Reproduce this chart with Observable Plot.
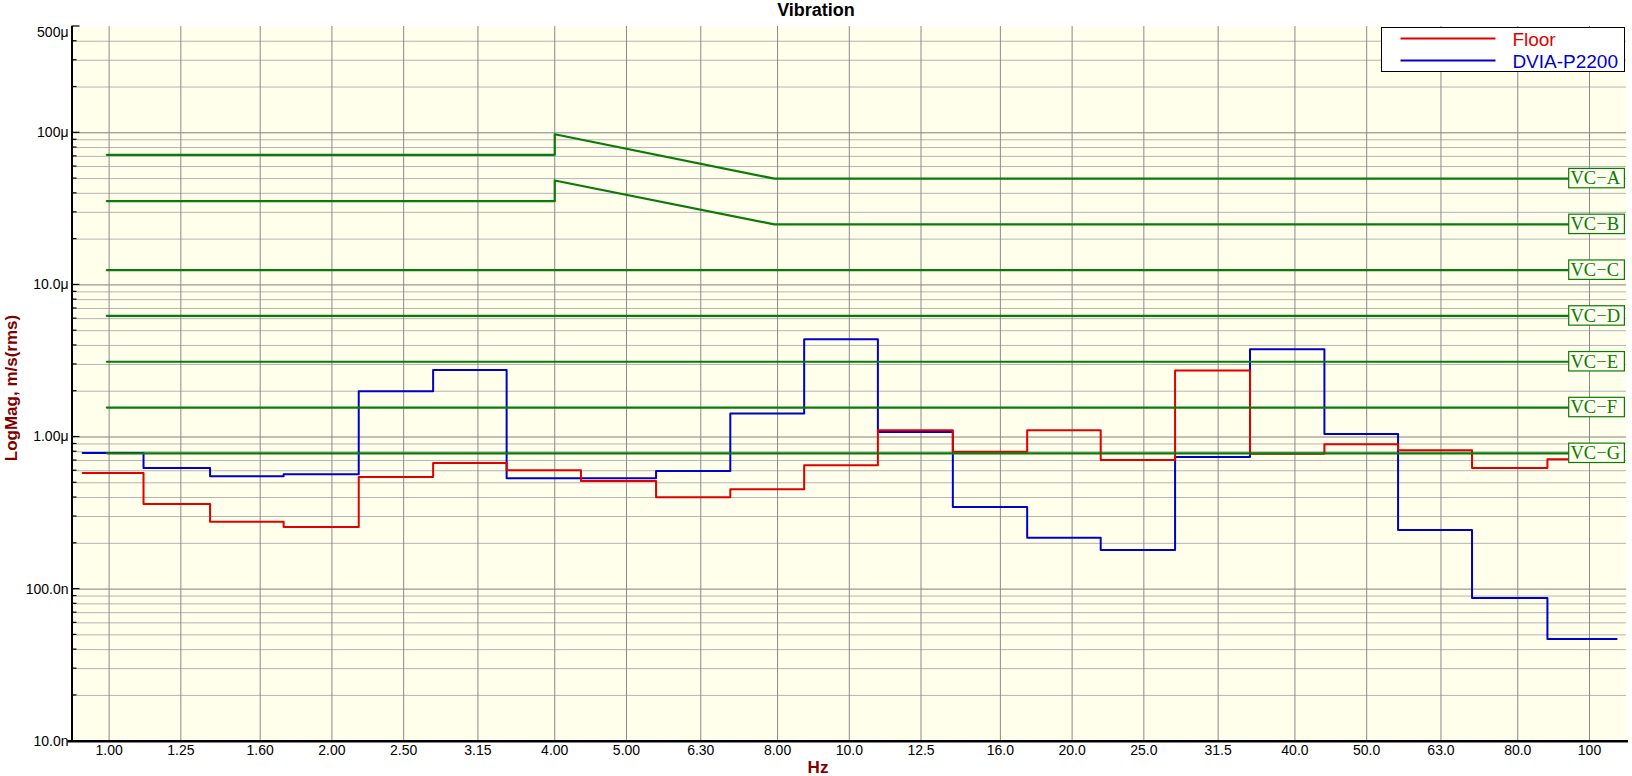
<!DOCTYPE html>
<html>
<head>
<meta charset="utf-8">
<script src="https://cdn.jsdelivr.net/npm/d3@7"></script>
<script src="https://cdn.jsdelivr.net/npm/@observablehq/plot@0.6"></script>
<style>
  body { margin: 0; background: #ffffff; }
  svg { display: block; }
</style>
</head>
<body>
<div id="chart"></div>
<script>
// ---------------- data ----------------
const chartTitle = "Vibration";
const xLabel = "Hz";
const yLabel = "LogMag, m/s(rms)";

// step boundaries of the 1/3-octave bands (Hz)
const bandEdgesHz = [0.921, 1.113, 1.369, 1.721, 2.174, 2.740, 3.444, 4.340, 5.482, 6.906,
  8.690, 10.93, 13.80, 17.39, 21.86, 27.55, 34.78, 43.84, 55.13, 69.39, 87.73, 108.8];

// band levels, µm/s (rms)
const floorLevels = [0.580, 0.363, 0.277, 0.256, 0.545, 0.675, 0.604, 0.514, 0.401, 0.453,
  0.652, 1.107, 0.800, 1.107, 0.706, 2.74, 0.777, 0.895, 0.817, 0.625, 0.713];
const dviaLevels = [0.785, 0.625, 0.553, 0.570, 2.00, 2.76, 0.535, 0.535, 0.597, 1.43,
  4.39, 1.079, 0.347, 0.218, 0.181, 0.739, 3.77, 1.046, 0.245, 0.0874, 0.047];

const seriesNames = ["Floor", "DVIA-P2200"];
const seriesColors = ["#e00000", "#0000cc"];

// vibration criteria curves (µm/s)
const vcNames = ["VC\u2212A", "VC\u2212B", "VC\u2212C", "VC\u2212D", "VC\u2212E", "VC\u2212F", "VC\u2212G"];
const vcAFreq = [0.993, 4.0, 4.0, 7.92, 108.8];
const vcAVal  = [71.7, 71.7, 97.9, 50, 50];
const vcBFreq = [0.993, 4.0, 4.0, 7.92, 108.8];
const vcBVal  = [35.5, 35.5, 48.6, 25, 25];
const vcFlatFreq = [0.993, 108.8];
const vcFlatLevels = [12.5, 6.25, 3.125, 1.5625, 0.78125];
const vcColor = "#0a7a0a";

// axes
const xDomain = [0.891, 112.2];
const yDomain = [0.01, 500];
const xTicks = [1, 1.25, 1.6, 2, 2.5, 3.15, 4, 5, 6.3, 8, 10, 12.5, 16, 20, 25, 31.5, 40, 50, 63, 80, 100];
const xTickLabels = ["1.00", "1.25", "1.60", "2.00", "2.50", "3.15", "4.00", "5.00", "6.30", "8.00",
  "10.0", "12.5", "16.0", "20.0", "25.0", "31.5", "40.0", "50.0", "63.0", "80.0", "100"];
const yMajorTicks = [0.01, 0.1, 1, 10, 100];
const yMajorLabels = ["10.0n", "100.0n", "1.00\u03bc", "10.0\u03bc", "100\u03bc"];
const yTopTick = [500];
const yTopLabel = ["500\u03bc"];
const minorMultipliers = [2, 3, 4, 5, 6, 7, 8, 9];

// ---------------- derived tables ----------------
const stepRows = (levels, name) =>
  bandEdgesHz.map((f, i) => ({ f, v: levels[Math.min(i, levels.length - 1)], name }));
const floorRows = stepRows(floorLevels, seriesNames[0]);
const dviaRows = stepRows(dviaLevels, seriesNames[1]);

const vcRows = [];
vcAFreq.forEach((f, i) => vcRows.push({ f, v: vcAVal[i], vc: vcNames[0] }));
vcBFreq.forEach((f, i) => vcRows.push({ f, v: vcBVal[i], vc: vcNames[1] }));
vcFlatLevels.forEach((lvl, k) => vcFlatFreq.forEach(f => vcRows.push({ f, v: lvl, vc: vcNames[k + 2] })));
const vcEndLevels = [vcAVal[vcAVal.length - 1], vcBVal[vcBVal.length - 1], ...vcFlatLevels];

const yMinorTicks = [];
yMajorTicks.forEach(d => minorMultipliers.forEach(m => { const v = m * d; if (v < yDomain[1]) yMinorTicks.push(v); }));

const xLabelMap = new Map(xTicks.map((t, i) => [t, xTickLabels[i]]));
const yLabelMap = new Map(yMajorTicks.map((t, i) => [t, yMajorLabels[i]]));
const topLabelRows = yTopTick.map((v, i) => ({ x: xDomain[0], v, label: yTopLabel[i] }));

// ---------------- plot ----------------
const W = 1632, H = 776;
const plot = Plot.plot({
  width: W,
  height: H,
  marginLeft: 71.5,
  marginRight: 6,
  marginTop: 26,
  marginBottom: 35.3,
  style: { fontFamily: "'Liberation Sans', Arial, sans-serif", fontSize: "14px", background: "#ffffff", color: "#000" },
  x: { type: "log", domain: xDomain, axis: null },
  y: { type: "log", domain: yDomain, axis: null },
  marks: [
    Plot.frame({ fill: "#ffffec", stroke: null }),
    Plot.ruleY(yMinorTicks, { stroke: "#b4b4b4", strokeWidth: 1 }),
    Plot.ruleY(yMajorTicks, { stroke: "#808080", strokeWidth: 1 }),
    Plot.ruleX(xTicks, { stroke: "#8a8a8a", strokeWidth: 1 }),
    Plot.line(dviaRows, { x: "f", y: "v", curve: "step-after", stroke: seriesColors[1], strokeWidth: 2 }),
    Plot.line(floorRows, { x: "f", y: "v", curve: "step-after", stroke: seriesColors[0], strokeWidth: 2 }),
    Plot.line(vcRows, { x: "f", y: "v", z: "vc", stroke: vcColor, strokeWidth: 2.2 }),
    Plot.ruleX([xDomain[0]], { stroke: "#000", strokeWidth: 2 }),
    Plot.ruleY([yDomain[0]], { stroke: "#000", strokeWidth: 2.6, insetLeft: -4, insetRight: -2 }),
    Plot.axisX(xTicks, { anchor: "bottom", tickSize: 0, tickPadding: 4, fontSize: 14, tickFormat: d => xLabelMap.get(d), label: null }),
    Plot.axisY(yMajorTicks, { anchor: "left", tickSize: 0, tickPadding: 3.5, fontSize: 14, tickFormat: d => yLabelMap.get(d), label: null }),
    Plot.text(topLabelRows, { x: "x", y: "v", text: "label", textAnchor: "end", dx: -3.5, dy: 6, fontSize: 14, fill: "#000", clip: false })
  ]
});

document.getElementById("chart").appendChild(plot);

// ---------------- annotations ----------------
const svg = d3.select(plot);
const xs = plot.scale("x"), ys = plot.scale("y");
const x0 = xs.apply(xDomain[0]);
const xRight = W - 6;

// inner tick marks on the y axis
const tickG = svg.append("g").attr("stroke", "#000").attr("stroke-width", 1.2);
yMajorTicks.concat(yTopTick).forEach(v => {
  const yy = ys.apply(v);
  tickG.append("line").attr("x1", x0).attr("x2", x0 + 8).attr("y1", yy).attr("y2", yy);
});
yMinorTicks.forEach(v => {
  const yy = ys.apply(v);
  tickG.append("line").attr("x1", x0).attr("x2", x0 + 5).attr("y1", yy).attr("y2", yy);
});

// VC labels
const vcG = svg.append("g").attr("text-anchor", "start");
vcNames.forEach((name, i) => {
  const yy = ys.apply(vcEndLevels[i]);
  vcG.append("rect")
    .attr("x", xRight - 57.3).attr("y", yy - 9.7)
    .attr("width", 55.7).attr("height", 19.4)
    .attr("fill", "#ffffee").attr("stroke", vcColor).attr("stroke-width", 1.2);
  vcG.append("text")
    .attr("x", xRight - 55.5).attr("y", yy + 6.3)
    .attr("text-anchor", "start")
    .attr("font-family", "'Liberation Serif', 'Times New Roman', serif")
    .attr("font-size", 18.5).attr("fill", vcColor)
    .text(name);
});

// legend
const lg = svg.append("g").attr("text-anchor", "start");
lg.append("rect").attr("x", 1381.5).attr("y", 27.5).attr("width", 243).attr("height", 44)
  .attr("fill", "#ffffff").attr("stroke", "#000").attr("stroke-width", 1);
seriesNames.forEach((name, i) => {
  const yy = 38.5 + i * 22;
  lg.append("line").attr("x1", 1400.5).attr("x2", 1495.5).attr("y1", yy).attr("y2", yy)
    .attr("stroke", seriesColors[i]).attr("stroke-width", 2);
  lg.append("text").attr("x", 1512.4).attr("y", yy + 7)
    .attr("text-anchor", "start")
    .attr("font-family", "'Liberation Sans', Arial, sans-serif").attr("font-size", 19)
    .attr("fill", seriesColors[i]).text(name);
});

// title and axis labels
svg.append("text").attr("x", W / 2).attr("y", 16).attr("text-anchor", "middle")
  .attr("font-family", "'Liberation Sans', Arial, sans-serif").attr("font-weight", "bold")
  .attr("font-size", 18).attr("fill", "#000").text(chartTitle);
svg.append("text").attr("x", 818).attr("y", 773).attr("text-anchor", "middle")
  .attr("font-family", "'Liberation Sans', Arial, sans-serif").attr("font-weight", "bold")
  .attr("font-size", 17).attr("fill", "#800000").text(xLabel);
svg.append("text").attr("transform", "translate(16.5,388) rotate(-90)").attr("text-anchor", "middle")
  .attr("font-family", "'Liberation Sans', Arial, sans-serif").attr("font-weight", "bold")
  .attr("font-size", 17).attr("fill", "#800000").text(yLabel);
</script>
</body>
</html>
